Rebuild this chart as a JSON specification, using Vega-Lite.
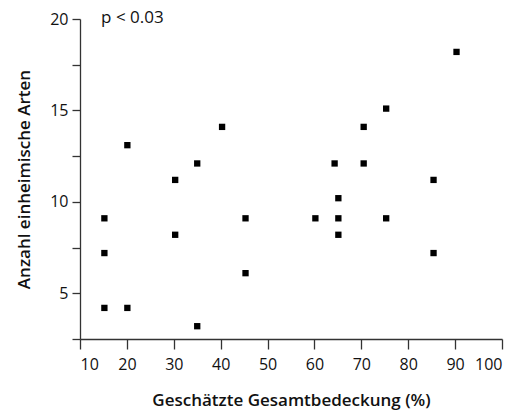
{
  "$schema": "https://vega.github.io/schema/vega-lite/v6.json",
  "width": 422,
  "height": 320,
  "autosize": "none",
  "padding": {"left": 80, "top": 19, "right": 28, "bottom": 72},
  "background": "white",
  "config": {
    "view": {"stroke": null},
    "font": "Open Sans",
    "axis": {
      "domainColor": "#333333",
      "tickColor": "#333333",
      "labelColor": "#111111",
      "titleColor": "#111111",
      "labelFont": "Open Sans",
      "titleFont": "Open Sans",
      "labelFontSize": 16,
      "titleFontSize": 17,
      "titleFontWeight": 600,
      "grid": false,
      "domainWidth": 1.3,
      "tickWidth": 1.3
    }
  },
  "datasets": {
    "pts": [
      {"cover": 15.2, "species": 9.1},
      {"cover": 15.2, "species": 7.2},
      {"cover": 15.2, "species": 4.2},
      {"cover": 20.1, "species": 13.1},
      {"cover": 20.1, "species": 4.2},
      {"cover": 30.3, "species": 11.2},
      {"cover": 30.3, "species": 8.2},
      {"cover": 35.0, "species": 12.1},
      {"cover": 35.0, "species": 3.2},
      {"cover": 40.3, "species": 14.1},
      {"cover": 45.3, "species": 9.1},
      {"cover": 45.3, "species": 6.1},
      {"cover": 60.2, "species": 9.1},
      {"cover": 64.3, "species": 12.1},
      {"cover": 65.1, "species": 10.2},
      {"cover": 65.1, "species": 9.1},
      {"cover": 65.1, "species": 8.2},
      {"cover": 70.5, "species": 14.1},
      {"cover": 70.5, "species": 12.1},
      {"cover": 75.3, "species": 15.1},
      {"cover": 75.3, "species": 9.1},
      {"cover": 85.4, "species": 11.2},
      {"cover": 85.4, "species": 7.2},
      {"cover": 90.3, "species": 18.2}
    ],
    "note": [{"cover": 14.5, "species": 20.05, "label": "p < 0.03"}]
  },
  "layer": [
    {
      "data": {"name": "pts"},
      "mark": {"type": "square", "filled": true, "color": "black", "size": 40, "opacity": 1},
      "encoding": {
        "x": {
          "field": "cover", "type": "quantitative",
          "scale": {"domain": [10, 100], "nice": false, "zero": false},
          "axis": {
            "title": "Geschätzte Gesamtbedeckung (%)",
            "values": [10, 20, 30, 40, 50, 60, 70, 80, 90, 100],
            "tickSize": 10, "labelPadding": 7, "titlePadding": 20
          }
        },
        "y": {
          "field": "species", "type": "quantitative",
          "scale": {"domain": [2.5, 20], "nice": false, "zero": false},
          "axis": {
            "title": "Anzahl einheimische Arten",
            "values": [2.5, 5, 7.5, 10, 12.5, 15, 17.5, 20],
            "labelExpr": "datum.value % 5 === 0 ? datum.value : ''",
            "tickSize": 8, "labelPadding": 4, "titlePadding": 16
          }
        }
      }
    },
    {
      "data": {"name": "note"},
      "mark": {"type": "text", "align": "left", "baseline": "middle", "fontSize": 17, "font": "Open Sans", "color": "#111111"},
      "encoding": {
        "x": {"field": "cover", "type": "quantitative"},
        "y": {"field": "species", "type": "quantitative"},
        "text": {"field": "label"}
      }
    }
  ]
}
